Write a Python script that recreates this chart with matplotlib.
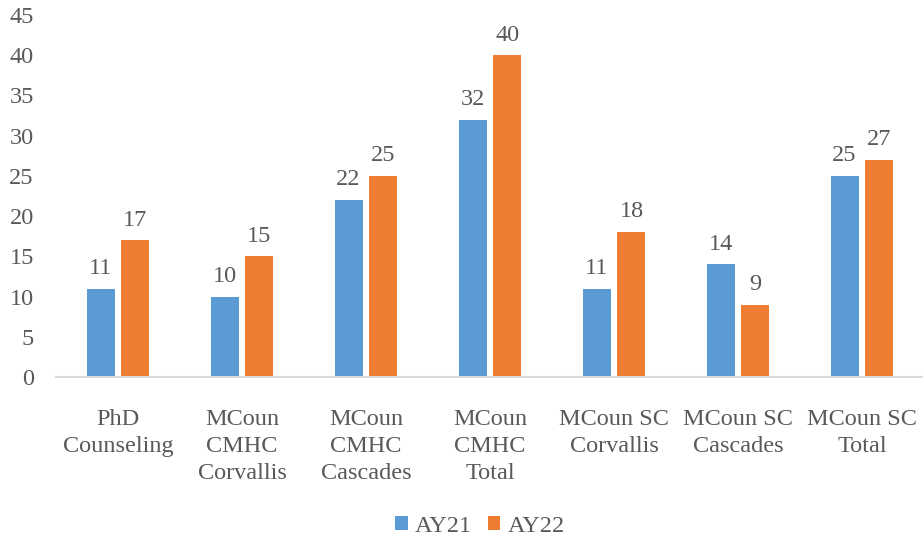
import matplotlib.pyplot as plt
import numpy as np

categories = ["PhD\nCounseling", "MCoun\nCMHC\nCorvallis", "MCoun\nCMHC\nCascades",
              "MCoun\nCMHC\nTotal", "MCoun SC\nCorvallis", "MCoun SC\nCascades",
              "MCoun SC\nTotal"]
ay21 = [11, 10, 22, 32, 11, 14, 25]
ay22 = [17, 15, 25, 40, 18, 9, 27]
series_names = ["AY21", "AY22"]
yticks = [0, 5, 10, 15, 20, 25, 30, 35, 40, 45]

blue = "#5B9BD5"
orange = "#ED7D31"
text_color = "#595959"
fs = 17.5

plt.rcParams['font.family'] = ['Liberation Serif', 'DejaVu Serif']

fig = plt.figure(figsize=(9.23, 5.4), dpi=100)
ax = fig.add_axes([56 / 923, 1 - 377 / 540, 868 / 923, (377 - 15) / 540])

x = np.arange(len(categories))
w = 0.225
gap = 0.028
b1 = ax.bar(x - w / 2 - gap, ay21, w, color=blue, label=series_names[0])
b2 = ax.bar(x + w / 2 + gap, ay22, w, color=orange, label=series_names[1])

for bars, vals in ((b1, ay21), (b2, ay22)):
    for rect, v in zip(bars, vals):
        ax.annotate(str(v), (rect.get_x() + rect.get_width() / 2, v),
                    xytext=(0, 7), textcoords="offset points",
                    ha="center", va="bottom", fontsize=fs, color=text_color)

ax.set_xlim(-0.5, len(categories) - 0.5)
ax.set_ylim(0, 45)
ax.set_yticks(yticks)
ax.set_xticks(x)
ax.set_xticklabels(categories, linespacing=1.37)
ax.tick_params(axis="both", length=0, labelsize=fs, labelcolor=text_color)
ax.tick_params(axis="x", pad=23)
ax.tick_params(axis="y", pad=16)

for s in ("top", "right", "left"):
    ax.spines[s].set_visible(False)
ax.spines["bottom"].set_color("#D9D9D9")
ax.spines["bottom"].set_linewidth(1.5)

leg = fig.legend(handles=[b1, b2], labels=series_names, loc="center",
                 bbox_to_anchor=(480 / 923, 1 - 526 / 540), ncol=2,
                 frameon=False, fontsize=fs, handlelength=0.5, handleheight=0.5,
                 handletextpad=0.3, columnspacing=0.65)
for t in leg.get_texts():
    t.set_color(text_color)

fig.savefig("out.png", dpi=100)
